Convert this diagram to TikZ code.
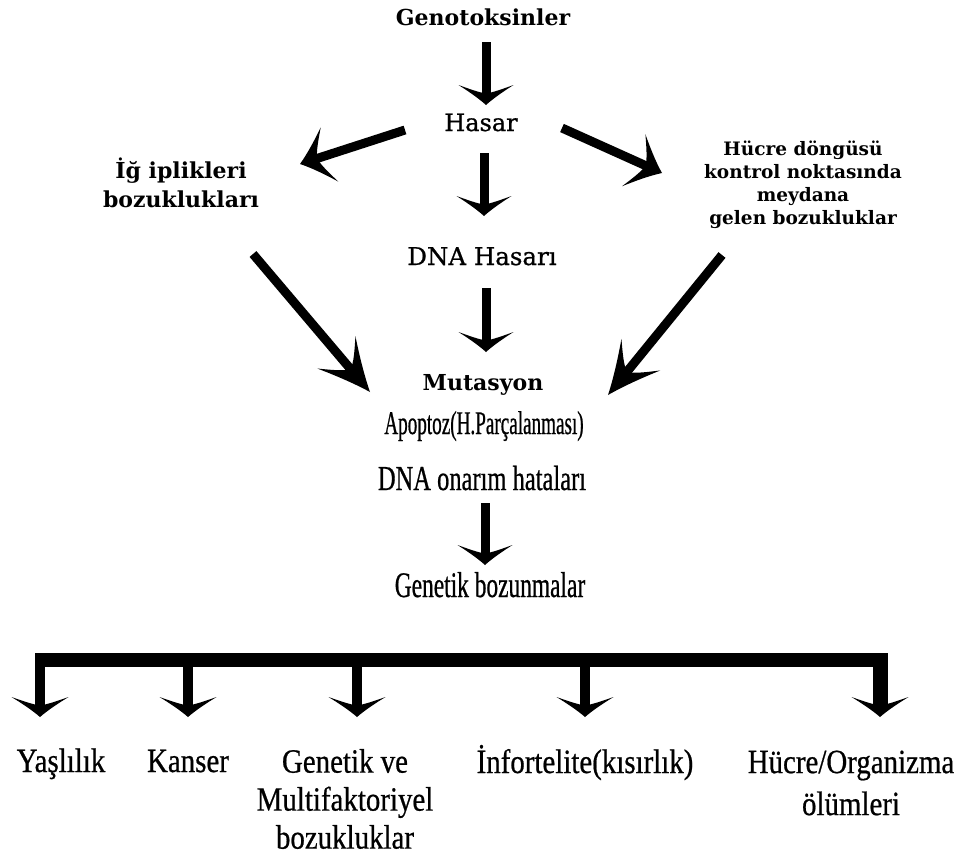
\documentclass[tikz,border=0pt]{standalone}
\usepackage{fontspec}
\usetikzlibrary{arrows.meta,calc}
\setmainfont{DejaVu Serif}
\newfontfamily\slabmed[FakeBold=0.8]{DejaVu Serif}
\newfontfamily\condA[FakeStretch=0.70,FakeBold=0.6]{Liberation Serif}
\newfontfamily\condB[FakeStretch=0.58,FakeBold=0.6]{Liberation Serif}
\newfontfamily\condC[FakeStretch=0.65,FakeBold=0.6]{Liberation Serif}
\newfontfamily\condD[FakeStretch=0.85,FakeBold=0.6]{Liberation Serif}

\pgfdeclarearrow{
  name = Barb,
  defaults = { length = 20pt, width = 55pt },
  parameters = { \the\pgfarrowlength,\the\pgfarrowwidth },
  setup code = {
    \pgfarrowssettipend{0pt}
    \pgfarrowssetlineend{-.5\pgfarrowlength}
    \pgfarrowssetbackend{-\pgfarrowlength}
    \pgfarrowshullpoint{0pt}{0pt}
    \pgfarrowshullpoint{-\pgfarrowlength}{.5\pgfarrowwidth}
    \pgfarrowshullpoint{-\pgfarrowlength}{-.5\pgfarrowwidth}
    \pgfarrowssavethe\pgfarrowlength
    \pgfarrowssavethe\pgfarrowwidth
  },
  drawing code = {
    \pgfpathmoveto{\pgfqpoint{0pt}{0pt}}
    \pgfpathcurveto{\pgfqpoint{-.35\pgfarrowlength}{.14\pgfarrowwidth}}{\pgfqpoint{-.72\pgfarrowlength}{.34\pgfarrowwidth}}{\pgfqpoint{-\pgfarrowlength}{.5\pgfarrowwidth}}
    \pgfpathcurveto{\pgfqpoint{-.8\pgfarrowlength}{.3\pgfarrowwidth}}{\pgfqpoint{-.62\pgfarrowlength}{.12\pgfarrowwidth}}{\pgfqpoint{-.58\pgfarrowlength}{0pt}}
    \pgfpathcurveto{\pgfqpoint{-.62\pgfarrowlength}{-.12\pgfarrowwidth}}{\pgfqpoint{-.8\pgfarrowlength}{-.3\pgfarrowwidth}}{\pgfqpoint{-\pgfarrowlength}{-.5\pgfarrowwidth}}
    \pgfpathcurveto{\pgfqpoint{-.72\pgfarrowlength}{-.34\pgfarrowwidth}}{\pgfqpoint{-.35\pgfarrowlength}{-.14\pgfarrowwidth}}{\pgfqpoint{0pt}{0pt}}
    \pgfpathclose
    \pgfusepathqfill
  }
}

\begin{document}
\begin{tikzpicture}[x=1pt,y=-1pt,
  lbl/.style={inner sep=0pt, outer sep=0pt, align=center},
  arr/.style={-{Barb[length=20pt,width=55pt]}, line width=9pt},
  sidearr/.style={-{Barb[length=31pt,width=57pt]}, line width=9pt},
  longarr/.style={-{Barb[length=52pt,width=50pt]}, line width=9pt},
  drop/.style={-{Barb[length=20pt,width=57pt]}, line width=10pt},
  bus/.style={line width=14pt}]
\useasboundingbox (0,0) rectangle (971,860);

% top part
\node[lbl, anchor=base, font={\bfseries\fontsize{22}{26}\selectfont}] (geno) at (483,25) {Genotoksinler};
\node[lbl, anchor=base, font={\slabmed\fontsize{24}{28}\selectfont}] (hasar) at (481,131) {Hasar};
\node[lbl, font={\bfseries\fontsize{22}{29}\selectfont}] (ig) at (181,183) {İğ iplikleri\\ bozuklukları};
\node[lbl, font={\bfseries\fontsize{18.5}{23}\selectfont}] (hucre) at (803,185) {Hücre döngüsü\\ kontrol noktasında\\ meydana\\ gelen bozukluklar};
\node[lbl, anchor=base, font={\slabmed\fontsize{24.5}{28}\selectfont}] (dnah) at (482,265) {DNA Hasarı};
\node[lbl, anchor=base, font={\bfseries\fontsize{22}{26}\selectfont}] (mut) at (483,390) {Mutasyon};
\node[lbl, anchor=base, font={\condB\fontsize{33}{36}\selectfont}] (apo) at (484,434) {Apoptoz(H.Parçalanması)};
\node[lbl, anchor=base, font={\condA\fontsize{35}{38}\selectfont}] (onarim) at (482,490) {DNA onarım hataları};
\node[lbl, anchor=base, font={\condC\fontsize{36}{40}\selectfont}] (genbo) at (490,597) {Genetik bozunmalar};

% bottom labels
\node[lbl, anchor=base, font={\condD\fontsize{34}{40}\selectfont}] (yas) at (61,772) {Yaşlılık};
\node[lbl, anchor=base, font={\condD\fontsize{34}{40}\selectfont}] (kan) at (188,772) {Kanser};
\node[lbl, font={\condD\fontsize{34}{38}\selectfont}] (gen) at (345,799) {Genetik ve\\ Multifaktoriyel\\ bozukluklar};
\node[lbl, anchor=base, font={\condD\fontsize{34}{40}\selectfont}] (info) at (585,773) {İnfortelite(kısırlık)};
\node[lbl, font={\condD\fontsize{34}{42}\selectfont}] (hucO) at (851,783) {Hücre/Organizma\\ ölümleri};

% arrows
\draw[arr] ($(geno.base)+(3,17)$) -- ($(hasar.base)+(5,-26)$);
\draw[sidearr] ($(hasar.base)+(-76,-1)$) -- ($(ig.center)+(119,-19)$);
\draw[sidearr] ($(hasar.base)+(81,-3)$) -- ($(hucre.center)+(-141,-12)$);
\draw[arr] ($(hasar.base)+(3,22)$) -- ($(dnah.base)+(2,-49)$);
\draw[arr] ($(dnah.base)+(4,23)$) -- ($(mut.base)+(3,-38)$);
\draw[longarr] ($(ig.center)+(72,71)$) -- ($(mut.base)+(-113,2)$);
\draw[longarr] ($(hucre.center)+(-81,70)$) -- ($(mut.base)+(125,5)$);
\draw[arr] ($(onarim.base)+(3,13)$) -- ($(genbo.base)+(-5,-32)$);

% bus
\coordinate (busL) at (35,660);
\coordinate (busR) at (887,660);
\draw[bus] (busL) -- (busR);
\coordinate (tY) at ($(yas.base)+(-21,-55)$);
\coordinate (tK) at ($(kan.base)+(0,-55)$);
\coordinate (tG) at ($(gen.center)+(12,-82)$);
\coordinate (tI) at ($(info.base)+(0,-56)$);
\coordinate (tH) at ($(hucO.center)+(29,-66)$);
\draw[drop] ($(tY |- busL)+(0,-7)$) -- (tY);
\draw[drop] (tK |- busL) -- (tK);
\draw[drop] (tG |- busL) -- (tG);
\draw[drop] (tI |- busL) -- (tI);
\draw[drop, line width=15pt] ($(tH |- busR)+(0,-7)$) -- (tH);
\end{tikzpicture}
\end{document}
